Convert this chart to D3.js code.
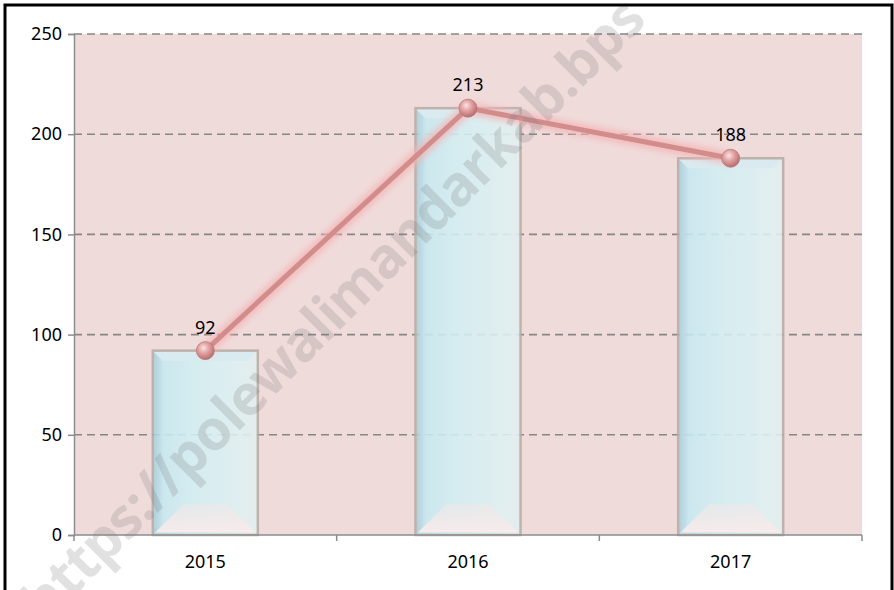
<!DOCTYPE html>
<html>
<head>
<meta charset="utf-8">
<script src="https://cdn.jsdelivr.net/npm/d3@7"></script>
<style>
  body { margin: 0; background: #fff; }
  svg { display: block; font-family: "Noto Sans", "Open Sans", sans-serif; }
</style>
</head>
<body>
<script>
(function(){

    //chart data
    var years = ["2015", "2016", "2017"];
    var values = [92, 213, 188];
    var yTicks = [0, 50, 100, 150, 200, 250];
    var watermark = "https://polewalimandarkab.bps";

    var width = 894, height = 590;
    var plot = {left: 74, right: 862, top: 34, bottom: 535};

    var svg = d3.select("body").append("svg")
        .attr("width", width)
        .attr("height", height);

    var defs = svg.append("defs");

    //gradient for bar body
    var gBar = defs.append("linearGradient").attr("id", "barFill")
        .attr("x1", "0").attr("x2", "1").attr("y1", "0").attr("y2", "0");
    gBar.append("stop").attr("offset", "0").attr("stop-color", "#c3e7ef");
    gBar.append("stop").attr("offset", "0.35").attr("stop-color", "#d1eff3");
    gBar.append("stop").attr("offset", "1").attr("stop-color", "#e3f2f2");

    //left bevel gradient
    var gLeft = defs.append("linearGradient").attr("id", "leftBevel")
        .attr("x1", "0").attr("x2", "1").attr("y1", "0").attr("y2", "0");
    gLeft.append("stop").attr("offset", "0").attr("stop-color", "#a4cdd9");
    gLeft.append("stop").attr("offset", "1").attr("stop-color", "#c4e6ef");

    //bottom bevel gradient
    var gBottom = defs.append("linearGradient").attr("id", "bottomBevel")
        .attr("x1", "0").attr("x2", "0").attr("y1", "0").attr("y2", "1");
    gBottom.append("stop").attr("offset", "0").attr("stop-color", "#f3eaea").attr("stop-opacity", 0.5);
    gBottom.append("stop").attr("offset", "1").attr("stop-color", "#f9eeee");

    //marker gradient
    var gMark = defs.append("radialGradient").attr("id", "markFill")
        .attr("cx", "0.4").attr("cy", "0.35").attr("r", "0.65");
    gMark.append("stop").attr("offset", "0").attr("stop-color", "#fbe3e3");
    gMark.append("stop").attr("offset", "0.45").attr("stop-color", "#e3a3a3");
    gMark.append("stop").attr("offset", "1").attr("stop-color", "#b86e6e");

    //glow filter for the line
    var glow = defs.append("filter").attr("id", "glow")
        .attr("x", "-20%").attr("y", "-20%").attr("width", "140%").attr("height", "140%");
    glow.append("feGaussianBlur").attr("stdDeviation", 3);

    //scales
    var x = d3.scaleBand()
        .domain(years)
        .range([plot.left, plot.right])
        .paddingInner(0.6)
        .paddingOuter(0.3);

    var xEdge = d3.scaleLinear()
        .domain([0, years.length])
        .range([plot.left, plot.right]);

    var y = d3.scaleLinear()
        .domain([0, 250])
        .range([plot.bottom, plot.top]);

    //plot background
    svg.append("rect")
        .attr("x", plot.left)
        .attr("y", plot.top)
        .attr("width", plot.right - plot.left)
        .attr("height", plot.bottom - plot.top)
        .attr("fill", "#f0dbdb");

    //gridlines
    svg.append("g").selectAll("line")
        .data(yTicks.filter(function(d){ return d > 0; }))
        .enter().append("line")
        .attr("x1", plot.left).attr("x2", plot.right)
        .attr("y1", function(d){ return y(d); })
        .attr("y2", function(d){ return y(d); })
        .attr("stroke", "#868686")
        .attr("stroke-width", 1.6)
        .attr("stroke-dasharray", "8,5");

    //y axis
    var yAxis = d3.axisLeft(y)
        .tickValues(yTicks)
        .tickSize(6)
        .tickPadding(6);

    var yg = svg.append("g")
        .attr("transform", "translate(" + plot.left + ",0)")
        .call(yAxis);
    yg.select(".domain").attr("stroke", "#8c8c8c").attr("stroke-width", 1.5);
    yg.selectAll(".tick line").attr("stroke", "#8c8c8c").attr("stroke-width", 1.5);
    yg.selectAll(".tick text")
        .attr("fill", "#000")
        .style("font-size", "18px")
        .style("font-family", "'Noto Sans', sans-serif");

    //bars
    var bevel = 10;
    var bars = svg.append("g").selectAll("g")
        .data(values)
        .enter().append("g")
        .attr("opacity", 0.88);

    bars.append("rect")
        .attr("x", function(d, i){ return x(years[i]); })
        .attr("y", function(d){ return y(d); })
        .attr("width", x.bandwidth())
        .attr("height", function(d){ return y(0) - y(d); })
        .attr("fill", "url(#barFill)");

    //left bevel
    bars.append("path")
        .attr("fill", "url(#leftBevel)")
        .attr("d", function(d, i){
            var x0 = x(years[i]), y0 = y(d), y1 = y(0);
            return "M" + x0 + "," + y0 + "L" + (x0 + bevel) + "," + (y0 + bevel) +
                "L" + (x0 + bevel) + "," + (y1 - bevel) + "L" + x0 + "," + y1 + "Z";
        });

    //top bevel
    bars.append("path")
        .attr("fill", "#d6eef3")
        .attr("d", function(d, i){
            var x0 = x(years[i]), x1 = x0 + x.bandwidth(), y0 = y(d);
            return "M" + x0 + "," + y0 + "L" + x1 + "," + y0 +
                "L" + (x1 - bevel) + "," + (y0 + bevel) + "L" + (x0 + bevel) + "," + (y0 + bevel) + "Z";
        });

    //right bevel
    bars.append("path")
        .attr("fill", "#e2f0f1")
        .attr("d", function(d, i){
            var x1 = x(years[i]) + x.bandwidth(), y0 = y(d), y1 = y(0);
            return "M" + x1 + "," + y0 + "L" + (x1 - bevel) + "," + (y0 + bevel) +
                "L" + (x1 - bevel) + "," + (y1 - bevel) + "L" + x1 + "," + y1 + "Z";
        });

    //bottom bevel
    var bDepth = 28;
    bars.append("path")
        .attr("fill", "url(#bottomBevel)")
        .attr("d", function(d, i){
            var x0 = x(years[i]) + 3, x1 = x(years[i]) + x.bandwidth() - 3, y1 = y(0) - 3;
            return "M" + x0 + "," + y1 + "L" + x1 + "," + y1 +
                "L" + (x1 - bDepth) + "," + (y1 - bDepth) + "L" + (x0 + bDepth) + "," + (y1 - bDepth) + "Z";
        });

    bars.append("rect")
        .attr("x", function(d, i){ return x(years[i]); })
        .attr("y", function(d){ return y(d); })
        .attr("width", x.bandwidth())
        .attr("height", function(d){ return y(0) - y(d); })
        .attr("fill", "none")
        .attr("stroke", "#b9aca6")
        .attr("stroke-width", 2.5);

    //x axis line and tick marks
    var xg = svg.append("g");
    xg.append("line")
        .attr("x1", plot.left).attr("x2", plot.right)
        .attr("y1", y(0)).attr("y2", y(0))
        .attr("stroke", "#8c8c8c").attr("stroke-width", 1.5);
    xg.selectAll(".xtick")
        .data(d3.range(years.length + 1))
        .enter().append("line")
        .attr("x1", function(d){ return xEdge(d); })
        .attr("x2", function(d){ return xEdge(d); })
        .attr("y1", y(0)).attr("y2", y(0) + 6)
        .attr("stroke", "#8c8c8c").attr("stroke-width", 1.5);
    xg.selectAll("text")
        .data(years)
        .enter().append("text")
        .attr("x", function(d){ return x(d) + x.bandwidth() / 2; })
        .attr("y", 568)
        .attr("text-anchor", "middle")
        .style("font-size", "18px")
        .text(function(d){ return d; });

    //line with glow
    var line = d3.line()
        .x(function(d, i){ return x(years[i]) + x.bandwidth() / 2; })
        .y(function(d){ return y(d); });

    svg.append("path")
        .datum(values)
        .attr("d", line)
        .attr("fill", "none")
        .attr("stroke", "#f4b4b4")
        .attr("stroke-width", 12)
        .attr("opacity", 0.8)
        .attr("filter", "url(#glow)");

    svg.append("path")
        .datum(values)
        .attr("d", line)
        .attr("fill", "none")
        .attr("stroke", "#d38c8c")
        .attr("stroke-width", 5);

    //markers
    svg.append("g").selectAll("circle")
        .data(values)
        .enter().append("circle")
        .attr("cx", function(d, i){ return x(years[i]) + x.bandwidth() / 2; })
        .attr("cy", function(d){ return y(d); })
        .attr("r", 9)
        .attr("fill", "url(#markFill)")
        .attr("stroke", "#b87878")
        .attr("stroke-width", 0.8);

    //data labels
    svg.append("g").selectAll("text")
        .data(values)
        .enter().append("text")
        .attr("x", function(d, i){ return x(years[i]) + x.bandwidth() / 2; })
        .attr("y", function(d){ return y(d) - 17; })
        .attr("text-anchor", "middle")
        .style("font-size", "18px")
        .text(function(d){ return d; });

    //watermark
    svg.append("text")
        .attr("transform", "translate(648,22) rotate(-45)")
        .attr("text-anchor", "end")
        .attr("fill", "#7a7a7a")
        .attr("opacity", 0.22)
        .style("font-size", "56px")
        .style("font-weight", "bold")
        .style("letter-spacing", "-1px")
        .text(watermark);

    //outer frame
    svg.append("rect")
        .attr("x", 5).attr("y", 5)
        .attr("width", 887).attr("height", 620)
        .attr("fill", "none")
        .attr("stroke", "#000")
        .attr("stroke-width", 3);

})();
</script>
</body>
</html>
